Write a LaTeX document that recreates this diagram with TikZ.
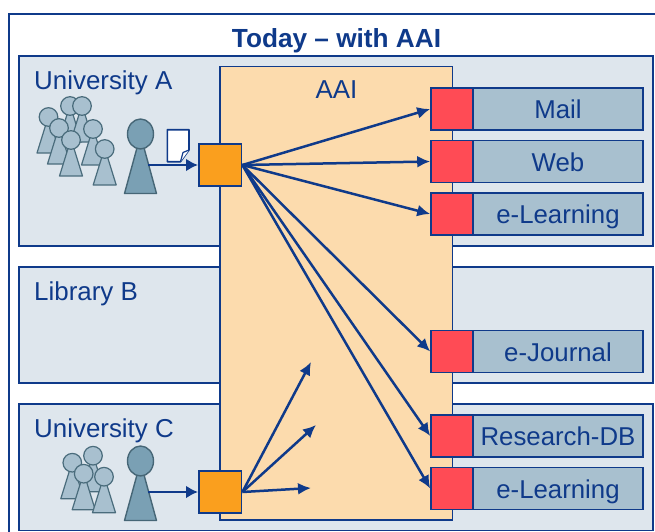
\documentclass[tikz,border=0pt]{standalone}
\usepackage{fontspec}
\setmainfont{Liberation Sans}
\usetikzlibrary{arrows.meta}
\definecolor{navy}{HTML}{0F3A8A}
\definecolor{paleblue}{HTML}{DEE6ED}
\definecolor{peach}{HTML}{FCDBAD}
\definecolor{orangebox}{HTML}{FA9F1E}
\definecolor{redbox}{HTML}{FF4B55}
\definecolor{svcblue}{HTML}{A8C0CF}
\definecolor{smalledge}{HTML}{4A6C7C}
\definecolor{bigfill}{HTML}{7AA0B4}
\definecolor{bigedge}{HTML}{466676}
\tikzset{
  frame/.style={draw=navy,line width=1.8pt,fill=#1},
  region/.style={frame=paleblue},
  idp/.style={draw=navy,line width=1.9pt,fill=orangebox,minimum width=42.5pt,minimum height=42pt,inner sep=0pt},
  sp/.style={draw=navy,line width=1.6pt,fill=redbox,minimum width=42pt,minimum height=42pt,inner sep=0pt},
  svc/.style={draw=navy,line width=1.6pt,fill=svcblue,minimum width=170pt,minimum height=42pt,inner sep=0pt,text=navy,text height=19.6pt,text depth=0pt,font=\fontsize{25.8}{28}\selectfont},
  lbl/.style={text=navy,font=\fontsize{25.9}{28}\selectfont,inner sep=0pt},
  flow/.style={draw=navy,line width=2.5pt,-{Latex[length=13pt,width=12pt]}},
  flowthick/.style={draw=navy,line width=2.9pt,-{Latex[length=12pt,width=13pt]}},
  smallp/.style={draw=smalledge,line width=1.2pt,fill=svcblue,line join=round},
  bigp/.style={draw=bigedge,line width=1.4pt,fill=bigfill,line join=round},
}
\newcommand{\smallperson}[2]{%
  \path[smallp] (#1-2.5,#2+7) -- (#1+2.5,#2+7) -- (#1+11.5,#2+36) -- (#1-11.5,#2+36) -- cycle;
  \path[smallp] (#1,#2) circle (9.3pt);}
\newcommand{\bigperson}[2]{%
  \path[bigp] (#1-3,#2+12) -- (#1+3,#2+12) -- (#1+16,#2+59.5) -- (#1-16,#2+59.5) -- cycle;
  \path[bigp] (#1,#2) ellipse (13pt and 15pt);}
\begin{document}
\begin{tikzpicture}[x=1pt,y=-1pt]
\useasboundingbox (0,0) rectangle (655,532);
\clip (0,0) rectangle (655,532);
\fill[white] (0,0) rectangle (655,532);
% outer frame
\draw[frame=white] (9,14) rectangle (670,545);
\node[text=navy,inner sep=0pt,anchor=base,font=\fontsize{26.2}{28}\selectfont\bfseries] (title) at (336.5,48) {Today – with AAI};
% regions
\draw[region] (19,56) rectangle (653,246);
\draw[region] (19,267) rectangle (653,383);
\draw[region] (19,404) rectangle (653,530.5);
\node[lbl,anchor=base west] (ua) at (34,90) {University A};
\node[lbl,anchor=base west] (lb) at (34,300) {Library B};
\node[lbl,anchor=base west] (uc) at (34,437) {University C};
% AAI
\draw[frame=peach] (220,66.5) rectangle (452.5,520);
\node[lbl,anchor=base] (aai) at (336.5,99) {AAI};
% people A
\smallperson{70}{106}
\smallperson{82}{106}
\smallperson{48.5}{117}
\smallperson{59}{128}
\smallperson{93}{129}
\smallperson{71}{140}
\smallperson{104.7}{149}
\bigperson{140.5}{134}
% people C
\smallperson{93}{455.7}
\smallperson{72.3}{462.7}
\smallperson{83.7}{473.7}
\smallperson{104}{476.7}
\bigperson{140.5}{461}
% document
\draw[navy,line width=1.6pt,fill=white,line join=round] (167.3,129.7) -- (189,129.7) -- (189,150) -- (180.5,161.7) -- (167.3,161.7) -- cycle;
\draw[navy,line width=1.2pt,fill=white,line join=round] (189,150) -- (183,152.5) -- (180.5,161.7);
% authentication boxes
\node[idp] (oa) at (220.2,165) {};
\node[idp] (oc) at (220.2,492) {};
% services
\node[sp] (r1) at (452,109) {};
\node[svc] (s1) at (558,109) {Mail};
\node[sp] (r2) at (452,161.5) {};
\node[svc] (s2) at (558,161.5) {Web};
\node[sp] (r3) at (452,214) {};
\node[svc] (s3) at (558,214) {e-Learning};
\node[sp] (r4) at (452,351.5) {};
\node[svc] (s4) at (558,351.5) {e-Journal};
\node[sp] (r5) at (452,436) {};
\node[svc] (s5) at (558,436) {Research-DB};
\node[sp] (r6) at (452,488.5) {};
\node[svc] (s6) at (558,488.5) {e-Learning};
% free ends
\coordinate (pa) at (148,165);
\coordinate (pc) at (148,492);
\coordinate (e1) at (311,362);
\coordinate (e2) at (316,425);
\coordinate (e3) at (311,488);
% connectors
\draw[flowthick] (pa) -- (oa.west);
\draw[flowthick] (pc) -- (oc.west);
\foreach \t in {r1,r2,r3,r4,r5,r6} \draw[flow] (oa.east) -- (\t.west);
\foreach \t in {e1,e2,e3} \draw[flow] (oc.east) -- (\t);
\end{tikzpicture}
\end{document}
